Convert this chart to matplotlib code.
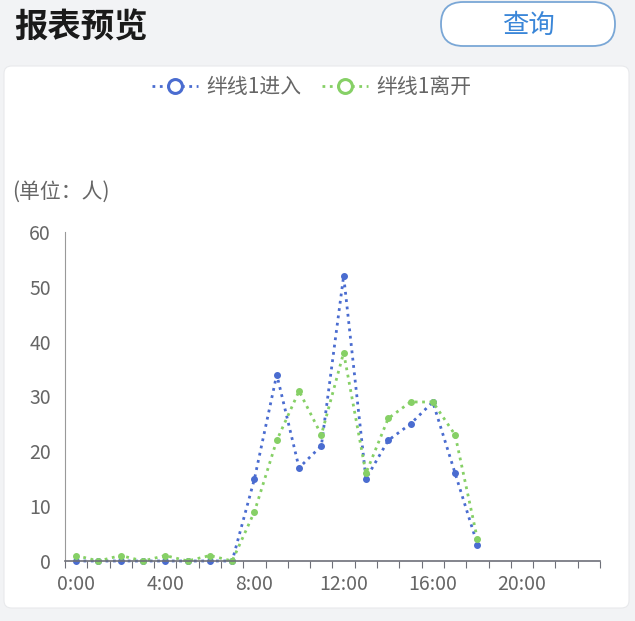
import matplotlib
matplotlib.use('Agg')
from matplotlib import pyplot as plt
from matplotlib.patches import FancyBboxPatch
from matplotlib.lines import Line2D

plt.rcParams['font.family'] = ['Noto Sans CJK SC', 'DejaVu Sans']

hours = [f"{h}:00" for h in range(24)]
entered = [0, 0, 0, 0, 0, 0, 0, 0, 15, 34, 17, 21, 52, 15, 22, 25, 29, 16, 3]
left = [1, 0, 1, 0, 1, 0, 1, 0, 9, 22, 31, 23, 38, 16, 26, 29, 29, 23, 4]
y_ticks = [0, 10, 20, 30, 40, 50, 60]

blue = '#4a6cd0'
green = '#86d066'

W, H = 635, 621
fig = plt.figure(figsize=(W / 100, H / 100), dpi=100)
fig.patch.set_facecolor('#f2f3f5')

# white card behind the chart
card = FancyBboxPatch((4 / W, (H - 608) / H), 625 / W, 542 / H,
                      boxstyle="round,pad=0,rounding_size=0.012",
                      transform=fig.transFigure, facecolor='white',
                      edgecolor='#e8e9ec', linewidth=0.8, zorder=-5)
fig.patches.append(card)

# header
fig.text(14 / W, 1 - 28 / H, "报表预览", fontsize=24, fontweight='bold',
         color='#1a1a1a', va='center', ha='left')
btn = FancyBboxPatch((441 / W, (H - 46) / H), 174 / W, 44 / H,
                     boxstyle="round,pad=0,rounding_size=0.035",
                     transform=fig.transFigure, facecolor='white',
                     edgecolor='#7aa7d6', linewidth=1.3, zorder=-5)
fig.patches.append(btn)
fig.text(528 / W, 1 - 25 / H, "查询", fontsize=19, color='#3a86d8',
         va='center', ha='center')

fig.text(12 / W, 1 - 192 / H, "(单位：人)", fontsize=15, color='#666666',
         va='center', ha='left')

ax = fig.add_axes([65 / W, (H - 561) / H, 535 / W, 329 / H])
ax.set_facecolor('none')
x = list(range(len(hours)))
ax.plot(x[:len(entered)], entered, linestyle=':', color=blue, linewidth=2,
        marker='o', markersize=4, label='绊线1进入', clip_on=False)
ax.plot(x[:len(left)], left, linestyle=':', color=green, linewidth=2,
        marker='o', markersize=4, label='绊线1离开', clip_on=False)

ax.set_xlim(-0.5, 23.5)
ax.set_ylim(0, 60)
ax.set_yticks(y_ticks)
ax.set_xticks([i - 0.5 for i in range(25)], minor=False)
ax.set_xticklabels([])
ax.set_xticks(x[::4], minor=True)
ax.set_xticklabels(hours[::4], minor=True)
ax.tick_params(axis='x', which='major', length=5, color='#6e7079', direction='out')
ax.tick_params(axis='x', which='minor', length=0, labelsize=14,
               labelcolor='#666666', pad=9)
ax.tick_params(axis='y', length=0, labelsize=14, labelcolor='#666666', pad=10)
for s in ['top', 'right']:
    ax.spines[s].set_visible(False)
ax.spines['left'].set_color('#999999')
ax.spines['bottom'].set_color('#6e7079')
ax.spines['bottom'].set_linewidth(1.2)

handles = [
    Line2D([0], [0], color=blue, linestyle=':', linewidth=2, marker='o',
           markersize=10, markerfacecolor='white', markeredgewidth=2.2),
    Line2D([0], [0], color=green, linestyle=':', linewidth=2, marker='o',
           markersize=10, markerfacecolor='white', markeredgewidth=2.2),
]
fig.legend(handles, ['绊线1进入', '绊线1离开'], loc='center',
           bbox_to_anchor=(312 / W, 1 - 87 / H), ncol=2, frameon=False,
           fontsize=15, labelcolor='#666666', handlelength=2.2,
           handletextpad=0.4, columnspacing=1.0)

fig.savefig('out.png', dpi=100, facecolor=fig.get_facecolor())
